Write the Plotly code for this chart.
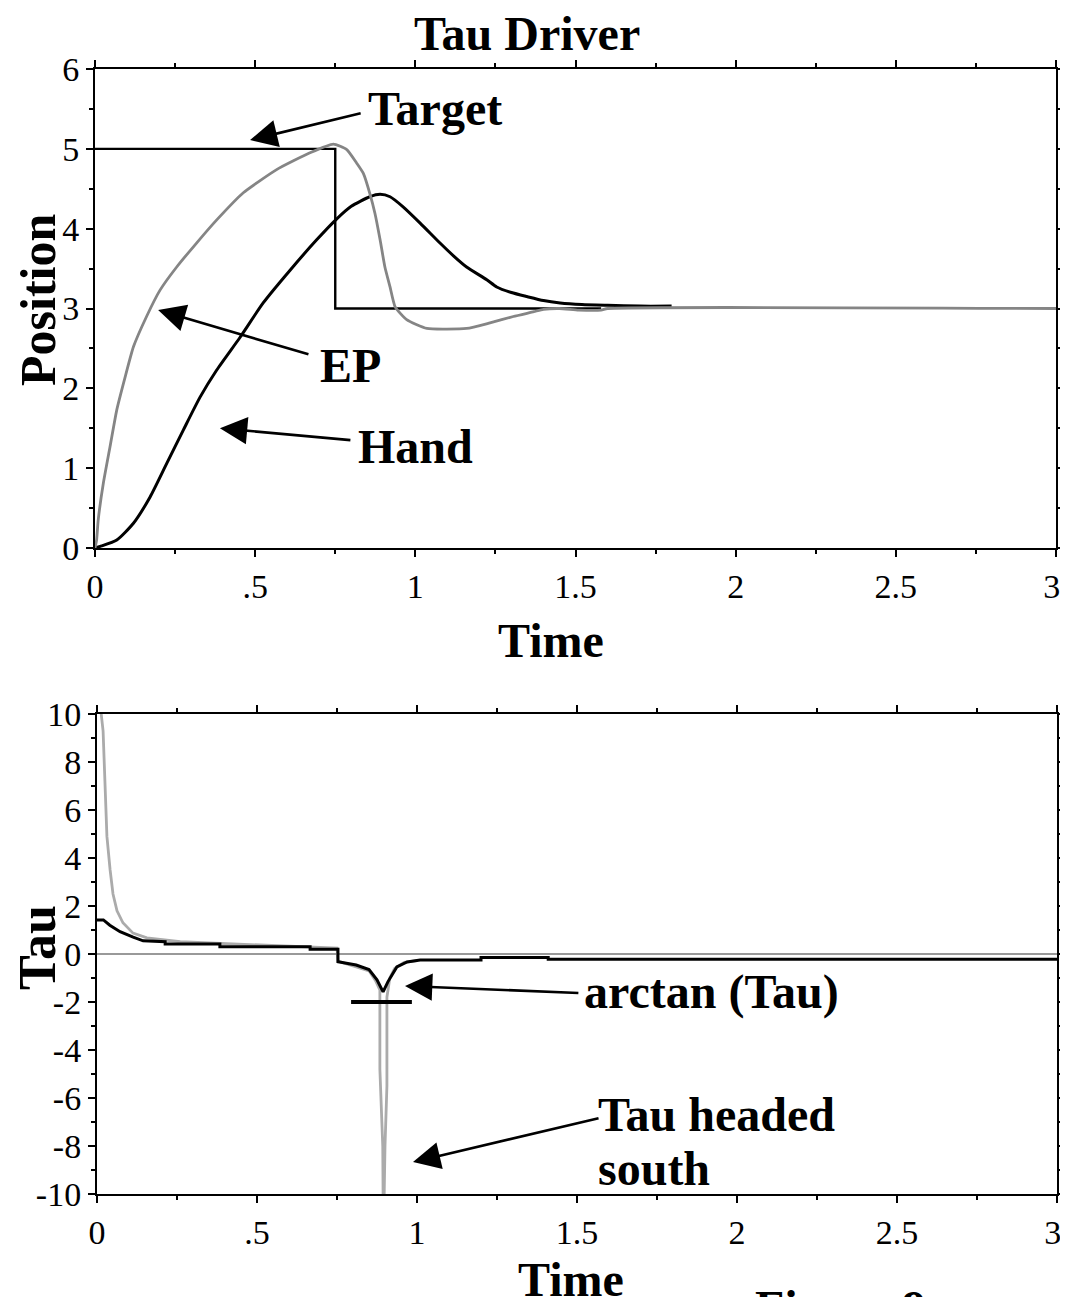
import plotly.graph_objects as go

# page body has an 8px margin, so the figure is drawn at (8, 8);
# keep the page no taller than the window
OFF = 8
W, H = 1068 - OFF, 1305 - 2 * OFF

# ---------------- data: top panel (Position) ----------------
target_time = [0, 0.75, 0.75, 1.58]
target_pos = [5, 5, 3, 3]

ep_time = [0, 0.005, 0.01, 0.026, 0.047, 0.068, 0.094, 0.12, 0.161, 0.203, 0.255,
           0.317, 0.38, 0.463, 0.567, 0.671, 0.744, 0.786, 0.817, 0.838, 0.858,
           0.874, 0.89, 0.905, 0.921, 0.937, 0.973, 1.036, 1.16, 1.233, 1.306,
           1.37, 1.40, 1.45, 1.51, 1.58, 1.6, 3.0]
ep_pos = [0, 0.1, 0.35, 0.81, 1.27, 1.73, 2.14, 2.52, 2.9, 3.23, 3.52,
          3.82, 4.11, 4.45, 4.74, 4.95, 5.06, 4.99, 4.82, 4.69, 4.44,
          4.19, 3.86, 3.52, 3.27, 3.02, 2.86, 2.75, 2.75, 2.82, 2.90,
          2.96, 2.99, 3.0, 2.98, 2.98, 3.0, 3.0]

hand_time = [0, 0.016, 0.068, 0.12, 0.172, 0.224, 0.276, 0.328, 0.38, 0.453, 0.525,
             0.609, 0.692, 0.754, 0.80, 0.858, 0.89, 0.921, 0.96, 1.015, 1.077,
             1.119, 1.16, 1.223, 1.254, 1.30, 1.348, 1.40, 1.452, 1.52, 1.6, 1.7, 1.8]
hand_pos = [0, 0.02, 0.1, 0.31, 0.64, 1.06, 1.48, 1.89, 2.23, 2.64, 3.07,
            3.48, 3.86, 4.12, 4.28, 4.40, 4.43, 4.40, 4.28, 4.07, 3.82,
            3.66, 3.52, 3.36, 3.27, 3.20, 3.15, 3.10, 3.07, 3.05, 3.04, 3.03, 3.03]

# ---------------- data: bottom panel (Tau) ----------------
tau_time = [0, 0.009, 0.019, 0.025, 0.031, 0.041, 0.05, 0.0625, 0.081, 0.1125, 0.156,
            0.26, 0.43, 0.687, 0.75, 0.753, 0.79, 0.85, 0.87, 0.884, 0.884, 0.893,
            0.895, 0.9, 0.906, 0.906, 0.915, 0.93, 0.96, 1.0]
tau_vals = [12, 10.5, 9.3, 7.1, 4.9, 3.5, 2.5, 1.8, 1.3, 0.87, 0.67,
            0.51, 0.42, 0.3, 0.25, -0.3, -0.46, -0.7, -1.1, -1.5, -4.8, -8,
            -12, -8, -5.5, -1.8, -1.0, -0.6, -0.35, -0.28]

atan_time = [0, 0.02, 0.04, 0.072, 0.113, 0.144, 0.213, 0.213, 0.384, 0.384, 0.666,
             0.666, 0.753, 0.753, 0.81, 0.85, 0.875, 0.894, 0.909, 0.937, 0.969,
             1.01, 1.2, 1.2, 1.41, 1.41, 3.0]
atan_vals = [1.42, 1.42, 1.2, 0.93, 0.7, 0.55, 0.51, 0.42, 0.42, 0.3, 0.3,
             0.2, 0.2, -0.32, -0.46, -0.65, -1.08, -1.58, -1.16, -0.54, -0.33,
             -0.25, -0.25, -0.15, -0.15, -0.22, -0.22]

# tick labels (the last one is nudged left so it stays inside the window)
x_tickvals = [0, 0.5, 1, 1.5, 2, 2.5, 3]
x_ticktext = ["0", ".5", "1", "1.5", "2", "2.5", "3\u00a0"]
pos_tickvals = [0, 1, 2, 3, 4, 5, 6]
tau_tickvals = [10, 8, 6, 4, 2, 0, -2, -4, -6, -8, -10]
tau_ticktext = ["10", "8", "6", "4", "2", "0", "-2", "-4", "-6", "-8", "-10"]

SERIF = "Liberation Serif"
TICKFONT = dict(family=SERIF, size=34, color="black")
BOLD = dict(family=SERIF, size=48, color="black", weight="bold")

fig = go.Figure()

# top panel traces
fig.add_trace(go.Scatter(x=target_time, y=target_pos, mode="lines",
                         line=dict(color="black", width=2.4), xaxis="x", yaxis="y"))
fig.add_trace(go.Scatter(x=hand_time, y=hand_pos, mode="lines",
                         line=dict(color="black", width=3, shape="spline", smoothing=0.6),
                         xaxis="x", yaxis="y"))
fig.add_trace(go.Scatter(x=ep_time, y=ep_pos, mode="lines",
                         line=dict(color="#858585", width=2.8, shape="spline", smoothing=0.5),
                         xaxis="x", yaxis="y"))

# bottom panel traces
fig.add_trace(go.Scatter(x=tau_time, y=tau_vals, mode="lines",
                         line=dict(color="#ababab", width=2.8), xaxis="x2", yaxis="y2"))
fig.add_trace(go.Scatter(x=atan_time, y=atan_vals, mode="lines",
                         line=dict(color="black", width=3), xaxis="x2", yaxis="y2"))


def px_x(p):
    return (p - OFF) / W


def px_y(p):
    return 1 - (p - OFF) / H


axis_common = dict(showline=True, linewidth=2, linecolor="black", mirror="ticks",
                   ticks="outside", ticklen=7, tickwidth=2, tickcolor="black",
                   showgrid=False, zeroline=False, tickfont=TICKFONT,
                   automargin=False, ticklabeloverflow="allow",
                   minor=dict(ticks="outside", ticklen=4, tickwidth=2,
                              tickcolor="black", showgrid=False))

fig.update_layout(
    width=W, height=H,
    margin=dict(l=0, r=0, t=0, b=0),
    paper_bgcolor="white", plot_bgcolor="white",
    showlegend=False,
    xaxis=dict(domain=[px_x(95), px_x(1056)], anchor="y", range=[0, 3],
               tickvals=x_tickvals, ticktext=x_ticktext, **axis_common),
    yaxis=dict(domain=[px_y(548), px_y(69)], anchor="x", range=[0, 6],
               tickvals=pos_tickvals, **axis_common),
    xaxis2=dict(domain=[px_x(97), px_x(1057)], anchor="y2", range=[0, 3],
                tickvals=x_tickvals, ticktext=x_ticktext, **axis_common),
    yaxis2=dict(domain=[px_y(1194), px_y(714)], anchor="x2", range=[-10, 10],
                tickvals=tau_tickvals, ticktext=tau_ticktext, **axis_common),
)
fig.update_xaxes(minor_dtick=0.25)
fig.update_layout(yaxis_minor_dtick=0.5, yaxis2_minor_dtick=1,
                  yaxis2_zeroline=True, yaxis2_zerolinecolor="#999999",
                  yaxis2_zerolinewidth=2)

annotations = []
# titles
annotations.append(dict(text="Tau Driver", x=px_x(527), y=px_y(33), xref="paper", yref="paper",
                        xanchor="center", yanchor="middle", showarrow=False, font=BOLD))
annotations.append(dict(text="Time", x=px_x(551), y=px_y(640), xref="paper", yref="paper",
                        xanchor="center", yanchor="middle", showarrow=False, font=BOLD))
annotations.append(dict(text="Time", x=px_x(571), y=px_y(1279), xref="paper", yref="paper",
                        xanchor="center", yanchor="middle", showarrow=False, font=BOLD))
annotations.append(dict(text="Position", x=px_x(38), y=px_y(300), xref="paper", yref="paper",
                        xanchor="center", yanchor="middle", textangle=-90, showarrow=False,
                        font=dict(BOLD, size=50)))
annotations.append(dict(text="Tau", x=px_x(38), y=px_y(948), xref="paper", yref="paper",
                        xanchor="center", yanchor="middle", textangle=-90, showarrow=False,
                        font=dict(BOLD, size=52)))
annotations.append(dict(text="Figure 9", x=px_x(753), y=px_y(1279), xref="paper", yref="paper",
                        xanchor="left", yanchor="top", showarrow=False, font=BOLD))

# arrows (head at x,y; tail at ax,ay) and labels
arrow_style = dict(showarrow=True, arrowhead=2, arrowsize=2.1, arrowwidth=2.6,
                   arrowcolor="black", text="")
annotations.append(dict(x=0.484, y=5.11, ax=0.834, ay=5.45, xref="x", yref="y",
                        axref="x", ayref="y", **arrow_style))
annotations.append(dict(text="Target", x=0.846, y=5.51, xref="x", yref="y", xanchor="left",
                        yanchor="middle", showarrow=False, font=BOLD))
annotations.append(dict(x=0.197, y=2.98, ax=0.671, ay=2.42, xref="x", yref="y",
                        axref="x", ayref="y", **arrow_style))
annotations.append(dict(text="EP", x=0.696, y=2.29, xref="x", yref="y", xanchor="left",
                        yanchor="middle", showarrow=False, font=BOLD))
annotations.append(dict(x=0.39, y=1.50, ax=0.802, ay=1.35, xref="x", yref="y",
                        axref="x", ayref="y", **arrow_style))
annotations.append(dict(text="Hand", x=0.815, y=1.27, xref="x", yref="y", xanchor="left",
                        yanchor="middle", showarrow=False, font=BOLD))

annotations.append(dict(x=0.9625, y=-1.33, ax=1.509, ay=-1.63, xref="x2", yref="y2",
                        axref="x2", ayref="y2", **arrow_style))
annotations.append(dict(text="arctan (Tau)", x=1.516, y=-1.58, xref="x2", yref="y2",
                        xanchor="left", yanchor="middle", showarrow=False, font=BOLD))
annotations.append(dict(x=0.9875, y=-8.67, ax=1.572, ay=-6.83, xref="x2", yref="y2",
                        axref="x2", ayref="y2", **arrow_style))
annotations.append(dict(text="Tau headed", x=1.56, y=-6.67, xref="x2", yref="y2",
                        xanchor="left", yanchor="middle", showarrow=False, font=BOLD))
annotations.append(dict(text="south", x=1.56, y=-8.92, xref="x2", yref="y2",
                        xanchor="left", yanchor="middle", showarrow=False, font=BOLD))

fig.update_layout(annotations=annotations)

# short horizontal bar marking arctan limit
fig.add_shape(type="line", x0=0.794, x1=0.984, y0=-2, y1=-2, xref="x2", yref="y2",
              line=dict(color="black", width=4))

fig.write_html("out.html")
